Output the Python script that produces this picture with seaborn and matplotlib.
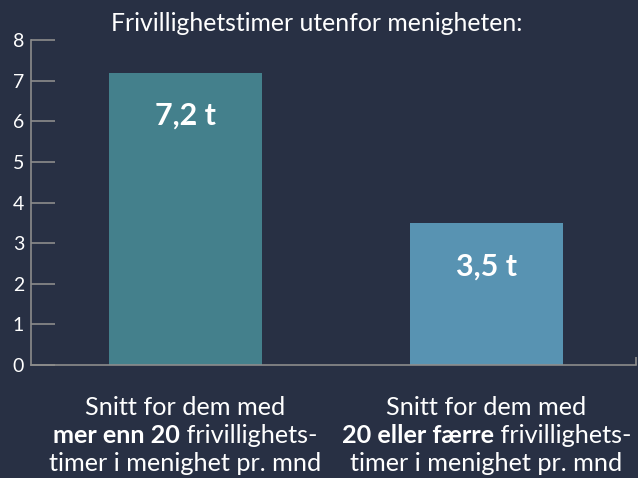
import matplotlib
matplotlib.use("Agg")
import matplotlib.pyplot as plt
import seaborn as sns
import pandas as pd

categories = ["mer enn 20", "20 eller færre"]
values = [7.2, 3.5]
value_labels = ["7,2 t", "3,5 t"]
line1 = "Snitt for dem med"
line2_rest = " frivillighets-"
line3 = "timer i menighet pr. mnd"
title = "Frivillighetstimer utenfor menigheten:"
yticks = [0, 1, 2, 3, 4, 5, 6, 7, 8]
colors = ["#44808c", "#5893b2"]

BG = "#283044"
sns.set_theme(style="white")
plt.rcParams["font.family"] = ["Lato", "DejaVu Sans"]

fig = plt.figure(figsize=(6.38, 4.78), dpi=100, facecolor=BG)
ax = fig.add_axes([31/638, 1-365/478, (636-31)/638, (365-40)/478])
ax.set_facecolor(BG)

df = pd.DataFrame({"cat": categories, "val": values})
sns.barplot(data=df, x="cat", y="val", hue="cat", palette=colors, width=0.508,
            legend=False, ax=ax, saturation=1, edgecolor="none", linewidth=0)

ax.set_xlim(-0.513, 1.497)
ax.set_ylim(0, 8)
ax.set_yticks(yticks)
ax.set_yticklabels([str(t) for t in yticks], color="white", fontsize=14)
ax.set_xticks([1.497])
ax.set_xticklabels([""])
ax.tick_params(axis="y", direction="in", length=17, width=1.2, color="#8c8c8c", pad=5, left=True)
ax.tick_params(axis="x", direction="in", length=6, width=1.2, color="#8c8c8c", bottom=True)
ax.set_xlabel("")
ax.set_ylabel("")
for s in ["top", "right"]:
    ax.spines[s].set_visible(False)
for s in ["left", "bottom"]:
    ax.spines[s].set_color("#8c8c8c")
    ax.spines[s].set_linewidth(1.2)

for i, (v, lab) in enumerate(zip(values, value_labels)):
    ax.text(i, v - 1.29, lab, ha="center", va="baseline", color="white",
            fontsize=22, fontweight="bold")

fig.text(317/638, 1-31/478, title, ha="center", va="baseline", color="white", fontsize=17.8)

fig.canvas.draw()
renderer = fig.canvas.get_renderer()
centers_px = [ax.transData.transform((i, 0))[0] for i in range(len(categories))]
fs = 18.2
for cx, cat in zip(centers_px, categories):
    fig.text(cx/638, 1-415/478, line1, ha="center", va="baseline", color="white", fontsize=fs)
    fig.text(cx/638, 1-471/478, line3, ha="center", va="baseline", color="white", fontsize=fs)
    tb = fig.text(0, 0, cat, fontsize=fs, fontweight="bold")
    tr = fig.text(0, 0, line2_rest, fontsize=fs)
    wb = tb.get_window_extent(renderer).width
    wr = tr.get_window_extent(renderer).width
    tb.remove(); tr.remove()
    x0 = cx - (wb + wr) / 2
    fig.text(x0/638, 1-443/478, cat, ha="left", va="baseline", color="white",
             fontsize=fs, fontweight="bold")
    fig.text((x0 + wb)/638, 1-443/478, line2_rest, ha="left", va="baseline",
             color="white", fontsize=fs)

fig.savefig("out.png", dpi=100, facecolor=BG)
